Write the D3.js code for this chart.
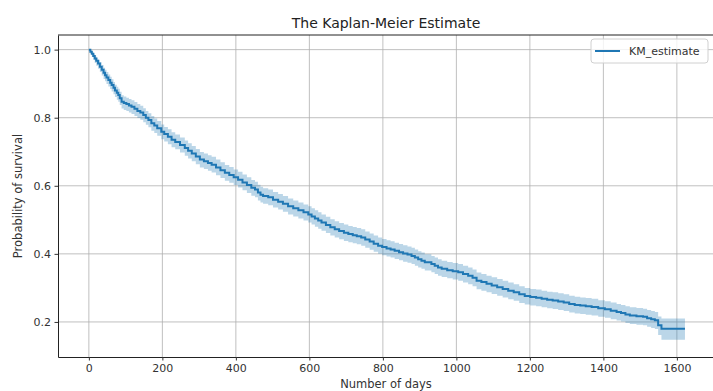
<!DOCTYPE html>
<html>
<head>
<meta charset="utf-8">
<script src="https://cdn.jsdelivr.net/npm/d3@7"></script>
<style>
  body { margin: 0; background: #fff; }
  svg { display: block; font-family: "DejaVu Sans", sans-serif; }
</style>
</head>
<body>
<svg id="chart" width="713" height="391"></svg>
<script>
// KM estimate (days, survival, confidence band)
const timeline = [0, 4, 8, 12, 16, 20, 25, 30, 35, 40,
  44, 48, 53, 58, 62, 67, 71, 76, 80, 84,
  89, 95, 102, 109, 116, 124, 132, 140, 148, 155,
  162, 170, 178, 186, 197, 205, 215, 225, 235, 248,
  261, 270, 280, 291, 302, 313, 324, 334, 346, 358,
  370, 382, 394, 406, 418, 430, 442, 452, 460, 467,
  474, 488, 501, 515, 528, 542, 556, 570, 584, 597,
  606, 615, 624, 633, 645, 657, 669, 681, 694, 706,
  718, 729, 741, 752, 764, 775, 787, 798, 810, 821,
  832, 844, 855, 867, 878, 887, 896, 905, 914, 932,
  941, 950, 960, 975, 990, 1005, 1018, 1032, 1044, 1055,
  1068, 1082, 1096, 1111, 1126, 1141, 1156, 1171, 1186, 1201,
  1217, 1232, 1247, 1262, 1277, 1292, 1307, 1322, 1337, 1352,
  1368, 1386, 1404, 1420, 1436, 1448, 1460, 1472, 1490, 1508,
  1519, 1530, 1540, 1549, 1558, 1622];
const kmEstimate = [1.000, .994, .988, .981, .974, .967, .959, .950, .941, .932,
  .925, .918, .911, .903, .896, .888, .880, .873, .867, .857,
  .847, .843, .840, .836, .832, .826, .820, .815, .808, .800,
  .793, .784, .777, .769, .759, .752, .744, .735, .729, .720,
  .711, .703, .695, .686, .677, .672, .667, .662, .654, .646,
  .638, .632, .625, .618, .610, .602, .594, .589, .580, .574,
  .570, .566, .559, .553, .547, .540, .534, .528, .522, .516,
  .510, .504, .498, .492, .485, .478, .472, .467, .462, .458,
  .455, .452, .448, .442, .436, .430, .424, .420, .416, .413,
  .409, .405, .401, .398, .394, .389, .384, .380, .375, .370,
  .365, .360, .356, .352, .349, .346, .341, .336, .330, .321,
  .317, .312, .307, .302, .297, .292, .287, .281, .276, .273,
  .271, .268, .265, .263, .260, .257, .253, .250, .248, .246,
  .244, .240, .237, .233, .229, .226, .222, .219, .217, .215,
  .211, .208, .205, .190, .180, .180];
const ciLower = [1.000, .988, .979, .970, .961, .953, .944, .934, .924, .914,
  .907, .899, .892, .884, .877, .869, .861, .853, .847, .837,
  .827, .823, .820, .815, .811, .805, .799, .794, .787, .779,
  .772, .762, .755, .747, .737, .730, .722, .713, .707, .698,
  .688, .680, .672, .663, .654, .649, .644, .639, .631, .623,
  .615, .609, .602, .595, .587, .579, .571, .566, .557, .551,
  .547, .543, .536, .530, .524, .516, .510, .504, .498, .492,
  .486, .480, .474, .468, .461, .454, .448, .443, .438, .434,
  .431, .428, .424, .418, .412, .406, .400, .396, .392, .389,
  .385, .381, .377, .374, .370, .365, .360, .356, .351, .346,
  .341, .336, .332, .328, .325, .321, .316, .311, .305, .296,
  .292, .287, .282, .277, .272, .267, .262, .256, .251, .248,
  .246, .243, .240, .238, .235, .232, .228, .225, .223, .221,
  .219, .215, .212, .208, .204, .201, .197, .194, .192, .190,
  .186, .182, .179, .162, .148, .148];
const ciUpper = [1.000, .998, .994, .989, .983, .977, .970, .963, .955, .947,
  .941, .934, .927, .920, .913, .905, .897, .891, .885, .876,
  .866, .862, .859, .855, .851, .846, .840, .835, .828, .820,
  .813, .805, .798, .790, .780, .773, .766, .757, .751, .742,
  .733, .725, .717, .708, .699, .695, .690, .685, .677, .669,
  .661, .655, .648, .641, .633, .625, .617, .612, .603, .597,
  .593, .589, .582, .576, .570, .563, .557, .551, .545, .540,
  .534, .528, .522, .516, .509, .502, .496, .491, .486, .482,
  .479, .476, .472, .466, .460, .454, .448, .444, .440, .437,
  .433, .429, .425, .422, .418, .413, .408, .404, .399, .394,
  .389, .384, .380, .376, .373, .370, .365, .360, .354, .345,
  .341, .336, .331, .326, .321, .316, .311, .305, .300, .297,
  .295, .292, .289, .287, .284, .281, .277, .274, .272, .270,
  .268, .264, .261, .257, .253, .250, .246, .243, .241, .239,
  .235, .232, .229, .216, .210, .210];
const xTicks = [0, 200, 400, 600, 800, 1000, 1200, 1400, 1600];
const yTicks = [0.2, 0.4, 0.6, 0.8, 1.0];

const svg = d3.select("#chart");
const mLeft = 58, mRight = 714, mTop = 35, mBottom = 357;
const blue = "#1f77b4";

const x = d3.scaleLinear().domain([-84, 1701]).range([mLeft, mRight]);
const y = d3.scaleLinear().domain([0.097, 1.043]).range([mBottom, mTop]);

const data = timeline.map((t, i) => ({t: t, s: kmEstimate[i], lo: ciLower[i], hi: ciUpper[i]}));

svg.append("clipPath").attr("id", "clip")
  .append("rect").attr("x", mLeft).attr("y", mTop).attr("width", mRight - mLeft).attr("height", mBottom - mTop);

// grid
const grid = svg.append("g").attr("stroke", "#b0b0b0").attr("stroke-width", 0.8);
grid.selectAll(".gx").data(xTicks).enter().append("line")
  .attr("x1", d => x(d)).attr("x2", d => x(d)).attr("y1", mTop).attr("y2", mBottom);
grid.selectAll(".gy").data(yTicks).enter().append("line")
  .attr("y1", d => y(d)).attr("y2", d => y(d)).attr("x1", mLeft).attr("x2", mRight);

const plot = svg.append("g").attr("clip-path", "url(#clip)");

// confidence band
plot.append("path")
  .datum(data)
  .attr("fill", blue)
  .attr("fill-opacity", 0.3)
  .attr("d", d3.area().curve(d3.curveStepAfter)
    .x(d => x(d.t)).y0(d => y(d.lo)).y1(d => y(d.hi)));

// KM line
plot.append("path")
  .datum(data)
  .attr("fill", "none")
  .attr("stroke", blue)
  .attr("stroke-width", 2)
  .attr("d", d3.line().curve(d3.curveStepAfter).x(d => x(d.t)).y(d => y(d.s)));

// axes
const xAxis = svg.append("g").attr("transform", "translate(0," + mBottom + ")")
  .call(d3.axisBottom(x).tickValues(xTicks).tickFormat(d3.format("d")).tickSize(3.5).tickPadding(3.5).tickSizeOuter(0));
const yAxis = svg.append("g").attr("transform", "translate(" + mLeft + ",0)")
  .call(d3.axisLeft(y).tickValues(yTicks).tickFormat(d3.format(".1f")).tickSize(3.5).tickPadding(3.5).tickSizeOuter(0));
[xAxis, yAxis].forEach(a => {
  a.selectAll("text").attr("font-size", 11).attr("fill", "#333").attr("font-family", "DejaVu Sans, sans-serif");
  a.selectAll("line").attr("stroke", "#333");
  a.select(".domain").attr("stroke", "#222").attr("stroke-width", 1);
});

// top spine
svg.append("line").attr("x1", mLeft).attr("x2", mRight).attr("y1", mTop).attr("y2", mTop)
  .attr("stroke", "#222").attr("stroke-width", 1);

// title and labels
svg.append("text").attr("x", (mLeft + mRight) / 2).attr("y", 28).attr("text-anchor", "middle")
  .attr("font-size", 14).attr("fill", "#222").text("The Kaplan-Meier Estimate");
svg.append("text").attr("x", (mLeft + mRight) / 2).attr("y", 388).attr("text-anchor", "middle")
  .attr("font-size", 11.5).attr("fill", "#333").text("Number of days");
svg.append("text").attr("transform", "translate(22," + ((mTop + mBottom) / 2) + ") rotate(-90)")
  .attr("text-anchor", "middle").attr("font-size", 11.5).attr("fill", "#333").text("Probability of survival");

// legend
const lg = svg.append("g");
lg.append("rect").attr("x", 591).attr("y", 39).attr("width", 117).attr("height", 24).attr("rx", 3)
  .attr("fill", "#fff").attr("fill-opacity", 0.8).attr("stroke", "#d0d0d0");
lg.append("line").attr("x1", 595).attr("x2", 620).attr("y1", 51).attr("y2", 51)
  .attr("stroke", blue).attr("stroke-width", 2);
lg.append("text").attr("x", 629).attr("y", 55).attr("font-size", 11).attr("fill", "#333").text("KM_estimate");
</script>
</body>
</html>
